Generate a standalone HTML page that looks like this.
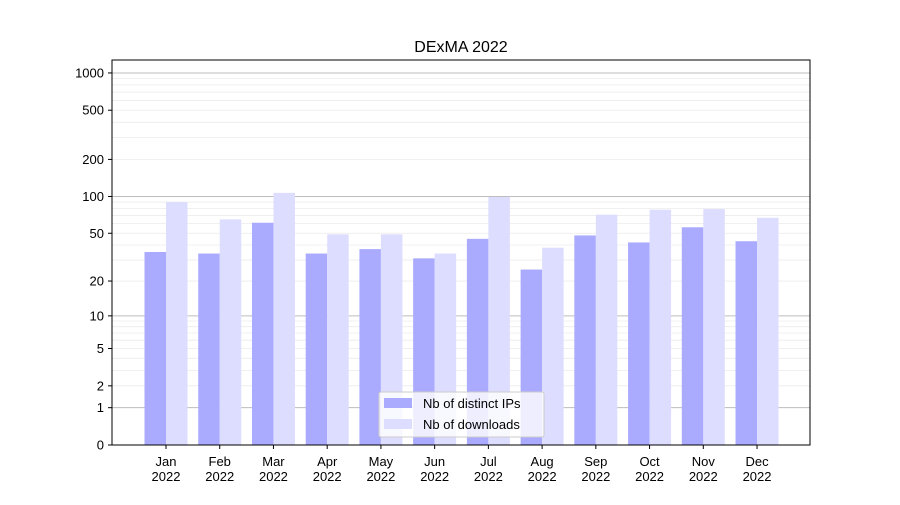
<!DOCTYPE html>
<html><head><meta charset="utf-8"><style>
body{margin:0;background:#fff;font-family:"Liberation Sans","DejaVu Sans",sans-serif}
</style></head><body>
<svg id="chart" width="900" height="500" xmlns="http://www.w3.org/2000/svg" font-family="Liberation Sans, DejaVu Sans, sans-serif">
<rect width="900" height="500" fill="#fff"/>
<g id="grid"></g>
<g id="bars"></g>
<rect x="112" y="60" width="698" height="385" fill="none" stroke="#000" stroke-width="1"/>
<g id="yaxis"></g>
<g id="xaxis"></g>
<text x="461" y="52" text-anchor="middle" font-size="16">DExMA 2022</text>
<g>
<rect x="379" y="392" width="165" height="45" fill="#fff" fill-opacity="0.8" stroke="#ccc" rx="2"/>
<rect x="384" y="398" width="28" height="10" fill="#aaaaff"/>
<text x="423" y="408" font-size="13">Nb of distinct IPs</text>
<rect x="384" y="419" width="28" height="10" fill="#ddddff"/>
<text x="423" y="429" font-size="13">Nb of downloads</text>
</g>
</svg>
<script>
const months = ["Jan","Feb","Mar","Apr","May","Jun","Jul","Aug","Sep","Oct","Nov","Dec"];
const distinctIPs = [35,34,61,34,37,31,45,25,48,42,56,43];
const downloads = [90,65,107,49,49,34,99,38,71,78,79,67];
const yTicks = [0,1,2,5,10,20,50,100,200,500,1000];
const majorGrid = [1,10,100,1000];
const minorGrid = [2,3,4,5,6,7,8,9,20,30,40,50,60,70,80,90,200,300,400,500,600,700,800,900];
const NS="http://www.w3.org/2000/svg";
const y = v => 445 - 124*Math.log10(1+v);
const xc = i => 166 + i*53.73;
function mk(tag, attrs, parent){const e=document.createElementNS(NS,tag);for(const k in attrs)e.setAttribute(k,attrs[k]);parent.appendChild(e);return e;}
const grid=document.getElementById('grid'), bars=document.getElementById('bars'), ya=document.getElementById('yaxis'), xa=document.getElementById('xaxis');
minorGrid.forEach(v=>{const l=mk('line',{x1:112,x2:810,y1:y(v),y2:y(v),stroke:'#ebebeb','stroke-width':0.8},grid);

});
majorGrid.forEach(v=>{const l=mk('line',{x1:112,x2:810,y1:y(v),y2:y(v),stroke:'#bdbdbd','stroke-width':1},grid);

});
months.forEach((m,i)=>{
 const c=xc(i);
 const b1=mk('rect',{x:c-21.5,y:y(distinctIPs[i]),width:21.5,height:445-y(distinctIPs[i]),fill:'#aaaaff'},bars);
 
 
 const b2=mk('rect',{x:c,y:y(downloads[i]),width:21.5,height:445-y(downloads[i]),fill:'#ddddff'},bars);
 
 
 mk('line',{x1:c,x2:c,y1:445,y2:449,stroke:'#000'},xa);
 const t=mk('text',{x:c,y:466,'text-anchor':'middle','font-size':13},xa);
 
 
 mk('tspan',{x:c,dy:0},t).textContent=m;
 mk('tspan',{x:c,dy:15},t).textContent='2022';
});
yTicks.forEach(v=>{
 mk('line',{x1:108,x2:112,y1:y(v),y2:y(v),stroke:'#000'},ya);
 const t=mk('text',{x:104,y:y(v)+4.5,'text-anchor':'end','font-size':13},ya);
 
 
 t.textContent=v;
});
</script>
</body></html>
